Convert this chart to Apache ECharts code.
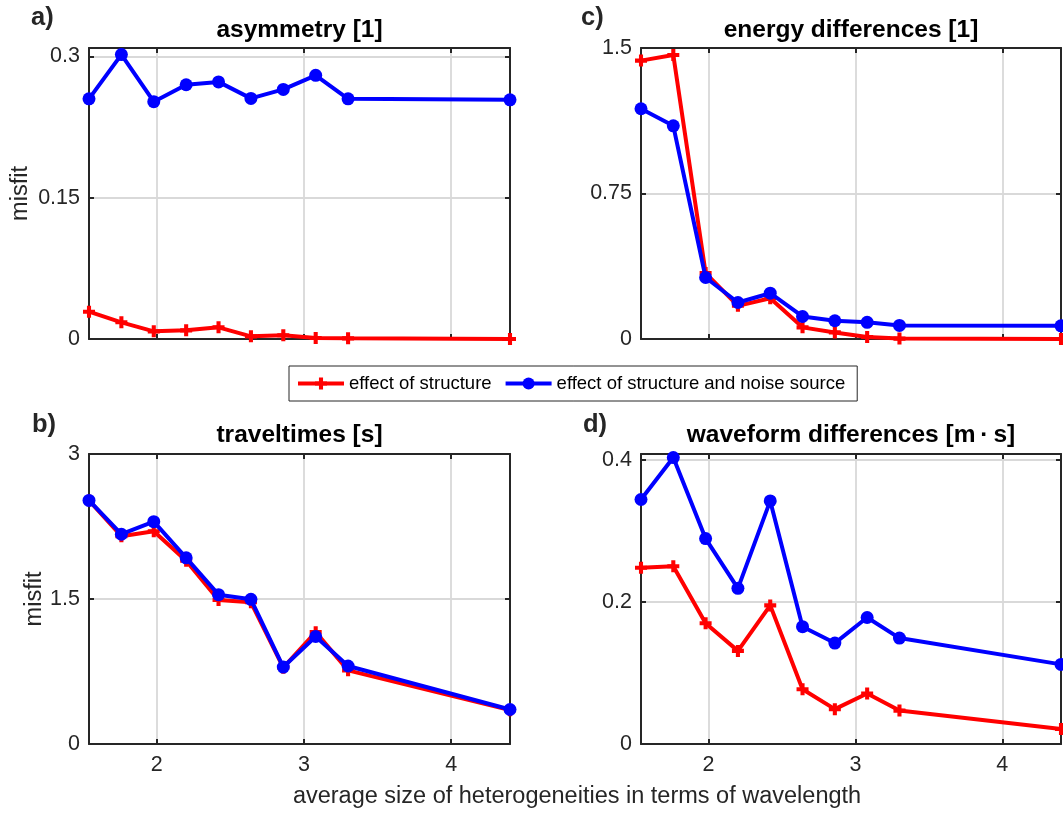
<!DOCTYPE html>
<html><head><meta charset="utf-8">
<script src="https://cdn.jsdelivr.net/npm/echarts@6/dist/echarts.min.js"></script>
<style>html,body{margin:0;padding:0;background:#fff}#c{width:1063px;height:815px}</style>
</head><body><div id="c"></div>
<script>
// ---- data ----
const xValues = [1.54, 1.76, 1.98, 2.20, 2.42, 2.64, 2.86, 3.08, 3.30, 4.40];
const xTicks = [2, 3, 4];
const seriesNames = ['effect of structure', 'effect of structure and noise source'];
const panelTitles = ['asymmetry [1]', 'energy differences [1]', 'traveltimes [s]', 'waveform differences [m\u2009\u00b7\u2009s]'];
const panelLetters = ['a)', 'c)', 'b)', 'd)'];
const xAxisLabel = 'average size of heterogeneities in terms of wavelength';
const yAxisLabel = 'misfit';

const asymStructure   = [0.029, 0.0177, 0.0081, 0.0092, 0.0124, 0.0028, 0.0039, 0.0010, 0.0007, 0.0];
const asymNoise       = [0.255, 0.302, 0.252, 0.270, 0.273, 0.2555, 0.265, 0.280, 0.255, 0.254];
const energyStructure = [1.435, 1.464, 0.340, 0.171, 0.210, 0.060, 0.034, 0.010, 0.002, 0.0];
const energyNoise     = [1.187, 1.099, 0.317, 0.188, 0.236, 0.116, 0.094, 0.086, 0.070, 0.068];
const travelStructure = [2.52, 2.15, 2.20, 1.895, 1.49, 1.466, 0.79, 1.157, 0.762, 0.35];
const travelNoise     = [2.52, 2.17, 2.30, 1.926, 1.545, 1.497, 0.796, 1.112, 0.807, 0.357];
const waveStructure   = [0.248, 0.250, 0.170, 0.131, 0.195, 0.077, 0.049, 0.071, 0.047, 0.021];
const waveNoise       = [0.344, 0.403, 0.289, 0.219, 0.342, 0.165, 0.142, 0.178, 0.149, 0.112];

const yTicksA = [0, 0.15, 0.3];
const yTicksC = [0, 0.75, 1.5];
const yTicksB = [0, 1.5, 3];
const yTicksD = [0, 0.2, 0.4];
const yMaxes = [0.309, 1.5, 3, 0.408];

// ---- layout / style ----
const FONT = '"Liberation Sans", Arial, Helvetica, sans-serif';
const AX = '#262626';
const GRIDC = '#d9d9d9';
const RED = '#ff0000', BLUE = '#0000ff';
const PLUS = 'path://M3.3,0H6.7V3.3H10V6.7H6.7V10H3.3V6.7H0V3.3H3.3Z';

const panels = [
  {grid: {left: 89, top: 48, width: 421, height: 291}, yTicks: yTicksA, red: asymStructure, blue: asymNoise, showX: false, yName: true, nameGap: 56},
  {grid: {left: 641, top: 48, width: 420, height: 291}, yTicks: yTicksC, red: energyStructure, blue: energyNoise, showX: false, yName: false},
  {grid: {left: 89, top: 454, width: 421, height: 290}, yTicks: yTicksB, red: travelStructure, blue: travelNoise, showX: true, yName: true, nameGap: 38},
  {grid: {left: 641, top: 454, width: 420, height: 290}, yTicks: yTicksD, red: waveStructure, blue: waveNoise, showX: true, yName: false}
];
const titlePos = [[299.5, 30], [851, 30], [299.5, 435], [851, 435]];
const letterPos = [[31, 18], [581, 18], [32, 425], [583, 425]];

const grid = [], xAxis = [], yAxis = [], series = [], graphic = [];
panels.forEach((p, i) => {
  grid.push(Object.assign({containLabel: false}, p.grid));
  const lineStyle = {color: AX, width: 2};
  const tickBase = {show: true, inside: true, length: 5, lineStyle: {color: AX, width: 2}};
  const labelBase = {color: AX, fontSize: 21.5, fontFamily: FONT};
  xAxis.push({
    type: 'value', gridIndex: i, position: 'bottom', min: xValues[0], max: xValues[xValues.length - 1],
    axisLine: {show: true, onZero: false, lineStyle},
    axisTick: Object.assign({customValues: xTicks}, tickBase),
    axisLabel: Object.assign({show: p.showX, customValues: xTicks, margin: 10}, labelBase),
    splitLine: {show: true, lineStyle: {color: GRIDC, width: 1.8}}
  });
  xAxis.push({
    type: 'value', gridIndex: i, position: 'top', min: xValues[0], max: xValues[xValues.length - 1],
    axisLine: {show: true, onZero: false, lineStyle},
    axisTick: Object.assign({customValues: xTicks}, tickBase),
    axisLabel: {show: false},
    splitLine: {show: false}
  });
  yAxis.push({
    type: 'value', gridIndex: i, position: 'left', min: 0, max: yMaxes[i],
    name: p.yName ? yAxisLabel : '', nameLocation: 'middle', nameGap: p.nameGap || 40,
    nameTextStyle: {color: AX, fontSize: 23.5, fontFamily: FONT},
    axisLine: {show: true, onZero: false, lineStyle},
    axisTick: Object.assign({customValues: p.yTicks}, tickBase),
    axisLabel: Object.assign({customValues: p.yTicks, margin: 9}, labelBase),
    splitLine: {show: true, lineStyle: {color: GRIDC, width: 1.8}}
  });
  yAxis.push({
    type: 'value', gridIndex: i, position: 'right', min: 0, max: yMaxes[i],
    axisLine: {show: true, onZero: false, lineStyle},
    axisTick: Object.assign({customValues: p.yTicks}, tickBase),
    axisLabel: {show: false},
    splitLine: {show: false}
  });
  series.push({
    name: seriesNames[0], type: 'line', xAxisIndex: 2 * i, yAxisIndex: 2 * i,
    data: xValues.map((x, k) => [x, p.red[k]]),
    symbol: PLUS, symbolSize: 12, clip: false, z: 3,
    lineStyle: {color: RED, width: 4}, itemStyle: {color: RED}
  });
  series.push({
    name: seriesNames[1], type: 'line', xAxisIndex: 2 * i, yAxisIndex: 2 * i,
    data: xValues.map((x, k) => [x, p.blue[k]]),
    symbol: 'circle', symbolSize: 13, clip: false, z: 4,
    lineStyle: {color: BLUE, width: 4}, itemStyle: {color: BLUE}
  });
  graphic.push({type: 'text', x: titlePos[i][0], y: titlePos[i][1],
    style: {text: panelTitles[i], fill: '#000', align: 'center', verticalAlign: 'middle', font: 'bold 24.5px ' + FONT}});
  graphic.push({type: 'text', x: letterPos[i][0], y: letterPos[i][1],
    style: {text: panelLetters[i], fill: AX, align: 'left', verticalAlign: 'middle', font: 'bold 25.5px ' + FONT}});
});
graphic.push({type: 'text', x: 577, y: 797,
  style: {text: xAxisLabel, fill: AX, align: 'center', verticalAlign: 'middle', font: '23.5px ' + FONT}});

const chart = echarts.init(document.getElementById('c'), null, {renderer: 'canvas'});
chart.setOption({
  animation: false,
  backgroundColor: '#fff',
  grid, xAxis, yAxis, series, graphic,
  legend: {
    data: seriesNames, left: 289, top: 366, orient: 'horizontal', selectedMode: false,
    itemWidth: 46, itemHeight: 15, itemGap: 12,
    lineStyle: {width: 4},
    padding: [8, 12, 8, 7], borderColor: AX, borderWidth: 1, backgroundColor: '#fff',
    textStyle: {fontSize: 18.5, color: '#000', fontFamily: FONT}
  }
});
</script>
</body></html>
